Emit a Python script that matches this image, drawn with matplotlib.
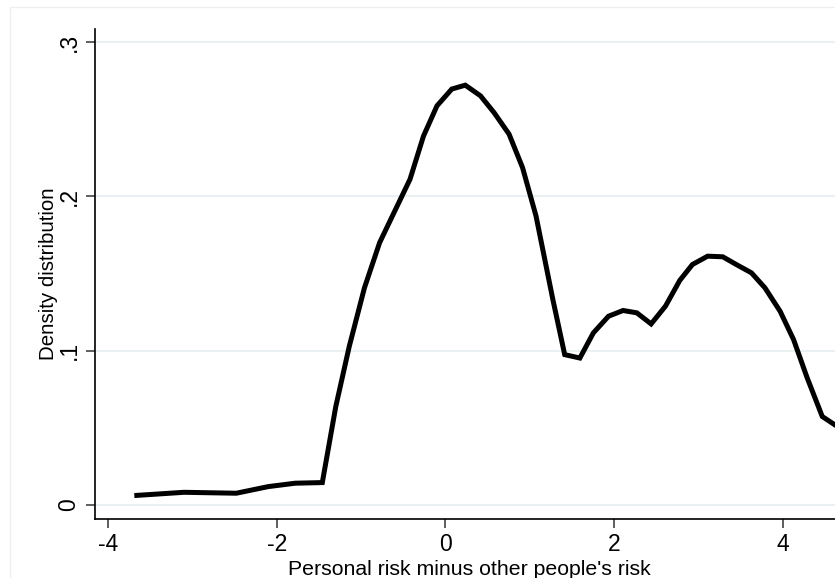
import numpy as np
import matplotlib
matplotlib.use("Agg")
import matplotlib.pyplot as plt
from matplotlib.patches import Rectangle

plt.rcParams['font.family'] = ['Liberation Sans', 'DejaVu Sans']

# kernel density estimate, evaluation points and density values
risk_diff = [-3.66, -3.10, -2.48, -2.10, -1.78, -1.46, -1.30, -1.14, -0.96, -0.78,
             -0.60, -0.42, -0.26, -0.10, 0.076, 0.236, 0.416, 0.576, 0.755, 0.915,
             1.075, 1.275, 1.415, 1.595, 1.755, 1.935, 2.107, 2.27, 2.44, 2.61,
             2.78, 2.93, 3.11, 3.29, 3.45, 3.63, 3.79, 3.97, 4.13, 4.29, 4.47, 4.65]
density = [0.0062, 0.0082, 0.0076, 0.0119, 0.0141, 0.0145, 0.0638, 0.1028, 0.1407, 0.170,
           0.1905, 0.211, 0.239, 0.2586, 0.2695, 0.272, 0.2651, 0.2543, 0.2403, 0.2186,
           0.1872, 0.133, 0.0974, 0.0952, 0.1115, 0.1223, 0.126, 0.1245, 0.1173, 0.1288,
           0.1455, 0.1558, 0.1612, 0.1608, 0.1558, 0.1504, 0.1407, 0.1255, 0.1071, 0.0825,
           0.0573, 0.0508]

xticks = [-4, -2, 0, 2, 4]
yticks = [0, 0.1, 0.2, 0.3]
ytick_labels = ["0", ".1", ".2", ".3"]

W, H = 835, 578
fig = plt.figure(figsize=(W / 100, H / 100), dpi=100)
fig.patch.set_facecolor("white")

# outer graph region border
fig.patches.append(Rectangle((10 / W, -0.1), 1.2, (H - 7) / H + 0.1,
                             transform=fig.transFigure, fill=False,
                             edgecolor="#eef0f0", linewidth=1))

ax = fig.add_axes([95 / W, (H - 519) / H, (W - 95) / W + 0.01, (519 - 29) / H])
ax.set_xlim(-4.156, 4.72)
ax.set_ylim(-0.0091, 0.3084)

for y in yticks:
    ax.axhline(y, color="#eaf1f2", linewidth=1.5, zorder=1)

ax.plot(risk_diff, density, color="black", linewidth=3.6,
        solid_joinstyle="miter", zorder=3)

ax.spines["top"].set_visible(False)
ax.spines["right"].set_visible(False)
ax.spines["left"].set_linewidth(1.2)
ax.spines["bottom"].set_linewidth(1.2)

ax.set_xticks(xticks)
ax.set_xticklabels([str(v) for v in xticks])
ax.set_yticks(yticks)
ax.set_yticklabels(ytick_labels, rotation=90, va="center")
ax.tick_params(axis="both", direction="out", length=6.5, width=1.1,
               color="#333333", labelsize=16.5)
ax.tick_params(axis="x", pad=3.5)
ax.tick_params(axis="y", pad=4)

ax.set_xlabel("Personal risk minus other people's risk", fontsize=15.3)
ax.set_ylabel("Density distribution", fontsize=14.8)
ax.xaxis.set_label_coords(0.5, -0.083)
ax.yaxis.set_label_coords(-0.049, 0.5)

fig.savefig("out.png", dpi=100)
